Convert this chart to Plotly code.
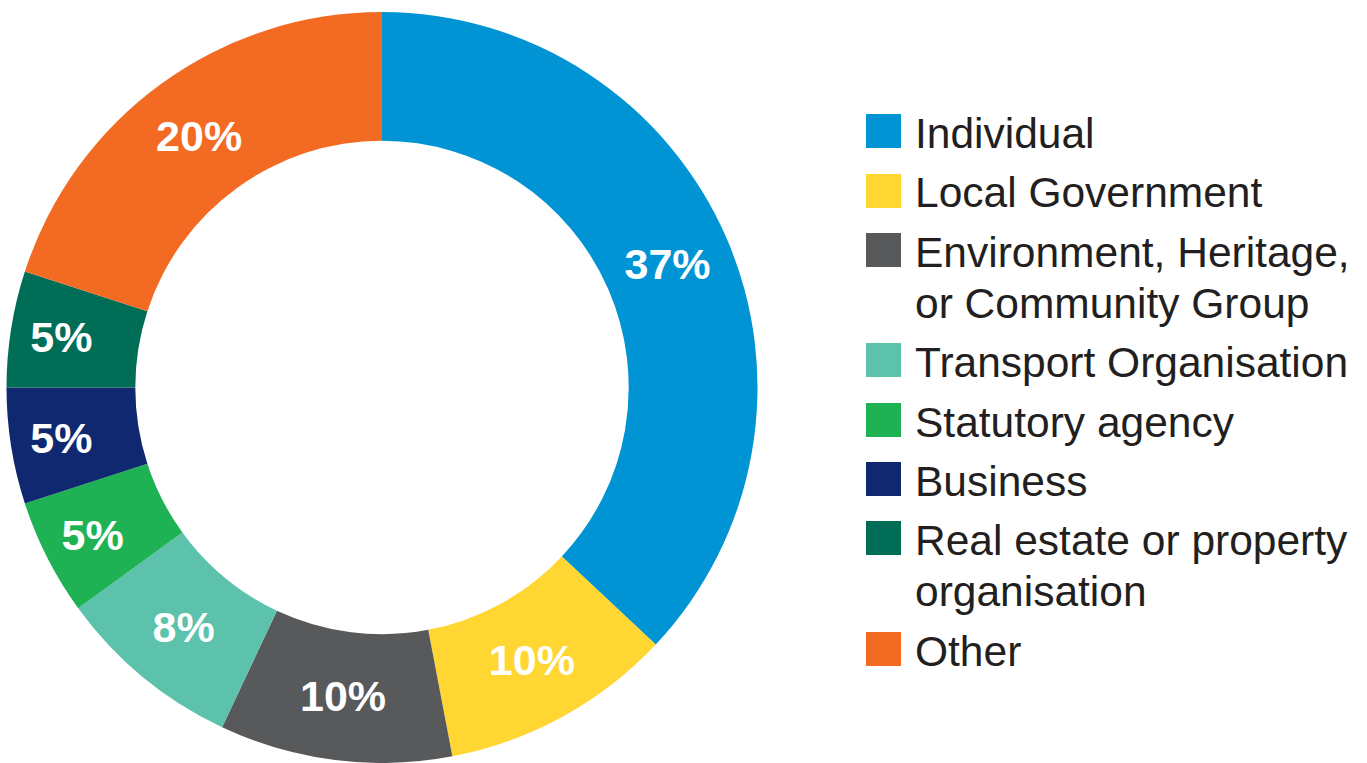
import plotly.graph_objects as go

categories = ["Individual", "Local Government", "Environment, Heritage,<br>or Community Group",
              "Transport Organisation", "Statutory agency", "Business",
              "Real estate or property<br>organisation", "Other"]
values = [37, 10, 10, 8, 5, 5, 5, 20]
colors = ["#0094D5", "#FFD632", "#58595B", "#5CC2AB", "#1FB254", "#0F2870", "#006D57", "#F36A22"]

W, H = 1367, 763

fig = go.Figure()
fig.add_trace(go.Pie(
    labels=[c.replace("<br>", " ") for c in categories],
    values=values,
    sort=False,
    direction="clockwise",
    rotation=0,
    hole=0.657,
    marker=dict(colors=colors, line=dict(width=0)),
    texttemplate="%{value}%",
    textposition="inside",
    insidetextorientation="horizontal",
    textfont=dict(family="Liberation Sans, Arial, sans-serif", size=43, color="white", weight="bold"),
    domain=dict(x=[6.5 / W, 757.5 / W], y=[0, 751 / H]),
    showlegend=False,
))

# legend (manual, to match the large swatches)
row_centers = [131, 191, 250, 360, 420, 479, 538, 649]
line_gap = 51
shapes = []
annotations = []
for cat, col, yc in zip(categories, colors, row_centers):
    shapes.append(dict(type="rect", xref="paper", yref="paper",
                       x0=866 / W, x1=901 / W, y0=1 - (yc + 17) / H, y1=1 - (yc - 17) / H,
                       fillcolor=col, line=dict(width=0)))
    for i, line in enumerate(cat.split("<br>")):
        ly = yc + 2 + i * line_gap
        annotations.append(dict(xref="paper", yref="paper", x=913 / W, y=1 - ly / H,
                                xanchor="left", yanchor="middle", showarrow=False,
                                text=line,
                                font=dict(family="Liberation Sans, Arial, sans-serif", size=42.5, color="#231F20")))

fig.update_layout(
    width=W, height=H,
    margin=dict(l=0, r=0, t=0, b=0),
    paper_bgcolor="white",
    plot_bgcolor="white",
    shapes=shapes,
    annotations=annotations,
)

fig.write_html("out.html", config={"displayModeBar": False},
               post_script="document.body.style.margin='0';document.body.style.overflow='hidden';")
